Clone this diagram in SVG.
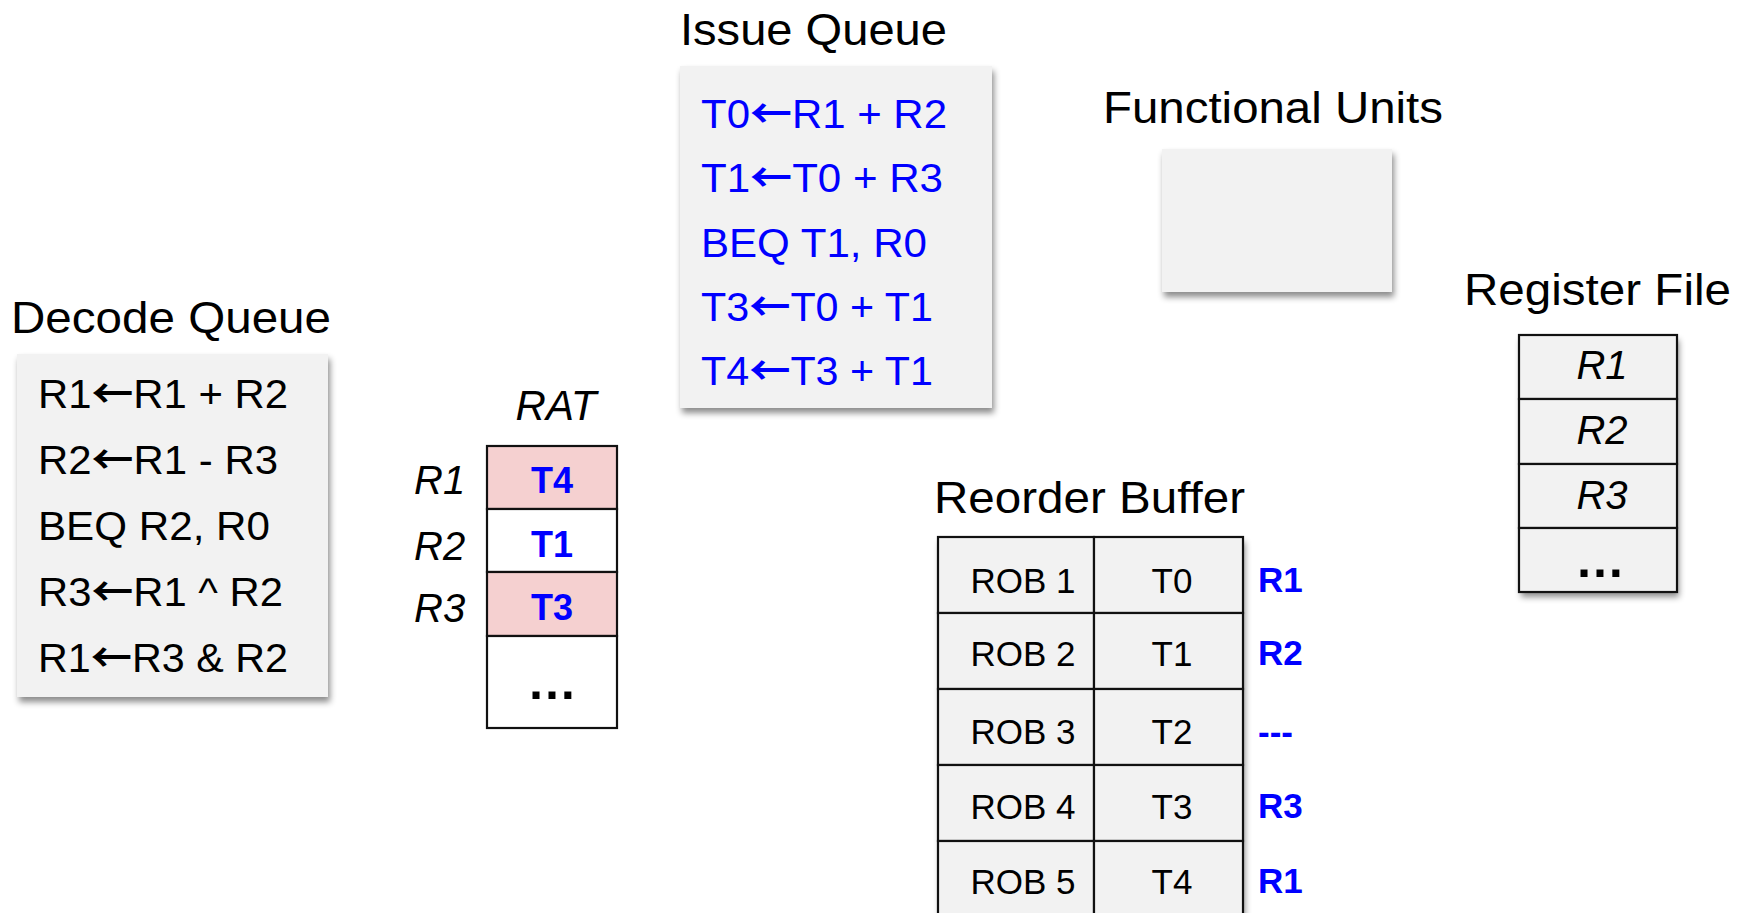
<svg xmlns="http://www.w3.org/2000/svg" width="1748" height="913" viewBox="0 0 1748 913">
<defs>
<filter id="sh" x="-10%" y="-10%" width="125%" height="130%">
<feDropShadow dx="2" dy="5" stdDeviation="3" flood-color="#000" flood-opacity="0.45"/>
</filter>
<style>
text{font-family:"Liberation Sans",Arial,Helvetica,sans-serif;}
.title{font-size:45px;fill:#000;}
.ins{font-size:40px;}
.ar{font-family:"Noto Sans CJK SC","DejaVu Sans",sans-serif;font-size:40px;font-weight:700;}
.blk{fill:#000;}
.blue{fill:#0000ff;}
.box{fill:#f2f2f2;filter:url(#sh);}
.cell{fill:#f2f2f2;stroke:#111;stroke-width:2.2;}
.wcell{fill:#ffffff;stroke:#111;stroke-width:2.2;}
.pcell{fill:#f5d0d0;stroke:#111;stroke-width:2.2;}
.it{font-style:italic;font-size:40px;fill:#000;}
.bb{font-weight:bold;font-size:36px;fill:#0000ff;}
.rob{font-size:35px;fill:#000;}
.dots{font-size:50px;font-weight:bold;fill:#000;}
</style>
</defs>
<rect width="1748" height="913" fill="#ffffff"/>

<g id="issue-queue">
<text class="title" x="680" y="45" textLength="267" lengthAdjust="spacingAndGlyphs">Issue Queue</text>
<rect class="box" x="680" y="66" width="312" height="342"/>
<text class="ins blue" x="701" y="128" textLength="246" lengthAdjust="spacingAndGlyphs">T0<tspan class="ar">←</tspan>R1 + R2</text>
<text class="ins blue" x="701" y="192" textLength="242" lengthAdjust="spacingAndGlyphs">T1<tspan class="ar">←</tspan>T0 + R3</text>
<text class="ins blue" x="701" y="257" textLength="226" lengthAdjust="spacingAndGlyphs">BEQ T1, R0</text>
<text class="ins blue" x="701" y="321" textLength="232" lengthAdjust="spacingAndGlyphs">T3<tspan class="ar">←</tspan>T0 + T1</text>
<text class="ins blue" x="701" y="385" textLength="232" lengthAdjust="spacingAndGlyphs">T4<tspan class="ar">←</tspan>T3 + T1</text>
</g>

<g id="functional-units">
<text class="title" x="1103" y="123" textLength="340" lengthAdjust="spacingAndGlyphs">Functional Units</text>
<rect class="box" x="1162" y="149" width="230" height="143"/>
</g>

<g id="decode-queue">
<text class="title" x="11" y="333" textLength="320" lengthAdjust="spacingAndGlyphs">Decode Queue</text>
<rect class="box" x="17" y="354" width="311" height="343"/>
<text class="ins blk" x="38" y="408" textLength="250" lengthAdjust="spacingAndGlyphs">R1<tspan class="ar">←</tspan>R1 + R2</text>
<text class="ins blk" x="38" y="474" textLength="240" lengthAdjust="spacingAndGlyphs">R2<tspan class="ar">←</tspan>R1 - R3</text>
<text class="ins blk" x="38" y="540" textLength="232" lengthAdjust="spacingAndGlyphs">BEQ R2, R0</text>
<text class="ins blk" x="38" y="606" textLength="245" lengthAdjust="spacingAndGlyphs">R3<tspan class="ar">←</tspan>R1 ^ R2</text>
<text class="ins blk" x="38" y="672" textLength="250" lengthAdjust="spacingAndGlyphs">R1<tspan class="ar">←</tspan>R3 &amp; R2</text>
</g>

<g id="rat">
<text class="it" x="556" y="420" text-anchor="middle" style="font-size:42px">RAT</text>
<rect class="pcell" x="487" y="446" width="130" height="63"/>
<rect class="wcell" x="487" y="509" width="130" height="63"/>
<rect class="pcell" x="487" y="572" width="130" height="64"/>
<rect class="wcell" x="487" y="636" width="130" height="92"/>
<text class="it" x="414" y="494">R1</text>
<text class="it" x="414" y="560">R2</text>
<text class="it" x="414" y="622">R3</text>
<text class="bb" x="552" y="493" text-anchor="middle">T4</text>
<text class="bb" x="552" y="557" text-anchor="middle">T1</text>
<text class="bb" x="552" y="620" text-anchor="middle">T3</text>
<text class="dots" x="552" y="699" text-anchor="middle">…</text>
</g>

<g id="register-file">
<text class="title" x="1464" y="305" textLength="267" lengthAdjust="spacingAndGlyphs">Register File</text>
<rect x="1519" y="335" width="158" height="257" fill="#f2f2f2" filter="url(#sh)"/>
<rect class="cell" x="1519" y="335" width="158" height="64"/>
<rect class="cell" x="1519" y="399" width="158" height="65"/>
<rect class="cell" x="1519" y="464" width="158" height="64"/>
<rect class="cell" x="1519" y="528" width="158" height="64"/>
<text class="it" x="1602" y="379" text-anchor="middle">R1</text>
<text class="it" x="1602" y="444" text-anchor="middle">R2</text>
<text class="it" x="1602" y="509" text-anchor="middle">R3</text>
<text class="dots" x="1600" y="577" text-anchor="middle">…</text>
</g>

<g id="reorder-buffer">
<text class="title" x="934" y="513" textLength="311" lengthAdjust="spacingAndGlyphs">Reorder Buffer</text>
<rect x="938" y="537" width="305" height="390" fill="#f2f2f2" filter="url(#sh)"/>
<rect class="cell" x="938" y="537" width="156" height="76"/>
<rect class="cell" x="1094" y="537" width="149" height="76"/>
<rect class="cell" x="938" y="613" width="156" height="76"/>
<rect class="cell" x="1094" y="613" width="149" height="76"/>
<rect class="cell" x="938" y="689" width="156" height="76"/>
<rect class="cell" x="1094" y="689" width="149" height="76"/>
<rect class="cell" x="938" y="765" width="156" height="76"/>
<rect class="cell" x="1094" y="765" width="149" height="76"/>
<rect class="cell" x="938" y="841" width="156" height="86"/>
<rect class="cell" x="1094" y="841" width="149" height="86"/>
<text class="rob" x="1023" y="593" text-anchor="middle">ROB 1</text>
<text class="rob" x="1023" y="666" text-anchor="middle">ROB 2</text>
<text class="rob" x="1023" y="744" text-anchor="middle">ROB 3</text>
<text class="rob" x="1023" y="819" text-anchor="middle">ROB 4</text>
<text class="rob" x="1023" y="894" text-anchor="middle">ROB 5</text>
<text class="rob" x="1172" y="593" text-anchor="middle">T0</text>
<text class="rob" x="1172" y="666" text-anchor="middle">T1</text>
<text class="rob" x="1172" y="744" text-anchor="middle">T2</text>
<text class="rob" x="1172" y="819" text-anchor="middle">T3</text>
<text class="rob" x="1172" y="894" text-anchor="middle">T4</text>
<text class="bb" x="1258" y="592" style="font-size:35px">R1</text>
<text class="bb" x="1258" y="665" style="font-size:35px">R2</text>
<text class="bb" x="1258" y="744" style="font-size:35px">---</text>
<text class="bb" x="1258" y="818" style="font-size:35px">R3</text>
<text class="bb" x="1258" y="893" style="font-size:35px">R1</text>
</g>
</svg>
